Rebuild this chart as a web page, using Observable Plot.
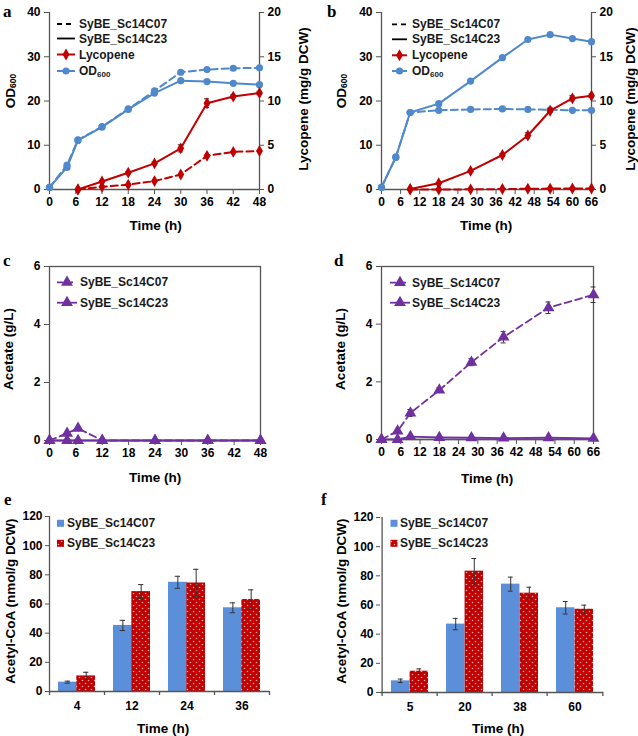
<!DOCTYPE html>
<html><head><meta charset="utf-8">
<script src="https://cdn.jsdelivr.net/npm/d3@7"></script>
<script src="https://cdn.jsdelivr.net/npm/@observablehq/plot@0.6"></script>
<style>
body{margin:0;background:#fff;}
#fig{position:relative;width:638px;height:736px;overflow:hidden;background:#fff;}
</style></head><body><div id="fig"></div>
<script>
// ---------- Panel a ----------
const timeA_OD = [0, 4, 6.5, 12, 18, 24, 30, 36, 42, 48];
const odA_C07 = [0.5, 5.5, 11.2, 14.2, 18.2, 22.3, 26.5, 27.1, 27.4, 27.5];
const odA_C23 = [0.5, 5.0, 11.1, 14.1, 18.1, 21.8, 24.6, 24.4, 24.0, 23.7];
const timeA_Lyc = [6.5, 12, 18, 24, 30, 36, 42, 48];
const lycA_C07 = [0, 0.3, 0.55, 0.95, 1.7, 3.8, 4.25, 4.35];
const lycA_C23 = [0, 0.9, 1.9, 2.95, 4.65, 9.75, 10.5, 10.9];
const lycA_C23_err = [0, 0.1, 0.1, 0.15, 0.4, 0.5, 0.2, 0.2];
// ---------- Panel b ----------
const timeB_OD = [0, 4.5, 9, 18, 28, 38, 46, 53, 60, 66];
const odB_C07 = [0.5, 7.3, 17.4, 17.9, 18.1, 18.2, 18.1, 18.0, 17.9, 17.9];
const odB_C23 = [0.5, 7.3, 17.4, 19.4, 24.5, 29.8, 33.9, 35.0, 34.1, 33.4];
const timeB_Lyc = [9, 18, 28, 38, 46, 53, 60, 66];
const lycB_C07 = [0, 0, 0.02, 0.05, 0.08, 0.1, 0.12, 0.12];
const lycB_C23 = [0.05, 0.7, 2.1, 3.9, 6.1, 8.9, 10.3, 10.6];
const lycB_C23_err = [0, 0.1, 0.1, 0.15, 0.3, 0.2, 0.3, 0.2];
// ---------- Panel c ----------
const timeC = [0, 4, 6.5, 12, 24, 36, 48];
const aceC_C07 = [0, 0.25, 0.42, 0, 0, 0, 0];
const aceC_C23 = [0, 0, 0, 0, 0, 0, 0];
// ---------- Panel d ----------
const timeD = [0, 5, 9, 18, 28, 38, 52, 66];
const aceD_C07 = [0, 0.29, 0.92, 1.71, 2.68, 3.55, 4.57, 5.02];
const aceD_C07_err = [0, 0.03, 0.12, 0.08, 0.12, 0.2, 0.2, 0.27];
const aceD_C23 = [0, 0, 0.1, 0.07, 0.06, 0.05, 0.06, 0.04];
// ---------- Panel e ----------
const catE = ["4", "12", "24", "36"];
const acoE_C07 = [6.4, 45.3, 74.9, 57.4];
const acoE_C07_err = [0.7, 3.5, 4.1, 3.4];
const acoE_C23 = [10.7, 68.5, 74.4, 63.1];
const acoE_C23_err = [2.5, 4.8, 9.4, 6.6];
// ---------- Panel f ----------
const catF = ["5", "20", "38", "60"];
const acoF_C07 = [8.0, 46.9, 74.3, 58.1];
const acoF_C07_err = [1.2, 3.9, 4.8, 4.3];
const acoF_C23 = [14.6, 83.2, 68.1, 57.1];
const acoF_C23_err = [1.6, 8.7, 4.1, 2.8];
// tick labels
const odTicks = [0, 10, 20, 30, 40];
const aceTicks = [0, 2, 4, 6];
const coaTicks = [0, 20, 40, 60, 80, 100, 120];
const strains = ["SyBE_Sc14C07", "SyBE_Sc14C23"];

const blue = "#5088cc", red = "#c00000", purple = "#7030a0", barBlue = "#5b8fd9";
const axisColor = "#555", errColor = "#333";
const font = "'Liberation Sans', Arial, sans-serif";
const style = {fontFamily: font, fontSize: "12px", fontWeight: "bold", color: "#000", background: "transparent", overflow: "visible"};
const fig = document.getElementById("fig");
function place(svg, left, top) {
  svg.style.position = "absolute"; svg.style.left = left + "px"; svg.style.top = top + "px";
  fig.appendChild(svg);
}
const pts = (xs, ys, es) => xs.map((x, i) => ({x, y: ys[i], e: es ? es[i] : 0}));
const k = 40 / 20; // right (lycopene 0–20) axis onto left (OD 0–40) scale
const fmt = d => String(d);

function errBars(data, f = 1) {
  const d = data.filter(p => p.e > 0);
  const o = {stroke: errColor, strokeWidth: 1};
  return [
    Plot.ruleX(d, {x: "x", y1: p => (p.y - p.e) * f, y2: p => (p.y + p.e) * f, ...o}),
    Plot.ruleY(d, {x1: "x", x2: "x", y: p => (p.y + p.e) * f, insetLeft: -2.5, insetRight: -2.5, ...o}),
    Plot.ruleY(d, {x1: "x", x2: "x", y: p => (p.y - p.e) * f, insetLeft: -2.5, insetRight: -2.5, ...o})
  ];
}

function linePanel(o) {
  const ax = {stroke: axisColor, strokeWidth: 1.3};
  return Plot.plot({
    width: o.w, height: o.h, marginLeft: o.ml, marginRight: o.mr, marginTop: o.mt, marginBottom: o.mb,
    style,
    x: {domain: [0, o.xmax], label: null},
    y: {domain: [0, o.ymax], label: null},
    marks: [
      ...(o.box ? [Plot.frame(ax)] : [Plot.ruleX([0], ax), Plot.ruleX([o.xmax], ax)]),
      Plot.ruleY([0], ax),
      Plot.axisX({ticks: d3.range(0, o.xmax + 1, 6), tickFormat: fmt, tickSize: 5, tickPadding: 3, stroke: axisColor, label: null}),
      Plot.axisY({ticks: o.yticks, tickFormat: fmt, tickSize: 5, tickPadding: 4, stroke: axisColor, label: null}),
      ...(o.right ? [Plot.axisY({anchor: "right", ticks: o.yticks, tickFormat: o.right, tickSize: 4, tickPadding: 4, stroke: axisColor, label: null})] : []),
      ...o.marks
    ]
  });
}

function odLycMarks(od07, od23, ly07, ly23) {
  return [
    Plot.line(od07, {x: "x", y: "y", stroke: blue, strokeWidth: 2, strokeDasharray: "7,4"}),
    Plot.line(od23, {x: "x", y: "y", stroke: blue, strokeWidth: 2}),
    Plot.dot(od07, {x: "x", y: "y", r: 3.6, fill: blue}),
    Plot.dot(od23, {x: "x", y: "y", r: 3.6, fill: blue}),
    ...errBars(ly23, k),
    Plot.line(ly07, {x: "x", y: d => d.y * k, stroke: red, strokeWidth: 2, strokeDasharray: "7,4"}),
    Plot.line(ly23, {x: "x", y: d => d.y * k, stroke: red, strokeWidth: 2}),
    Plot.dot(ly07, {x: "x", y: d => d.y * k, symbol: "diamond", r: 3.6, fill: red}),
    Plot.dot(ly23, {x: "x", y: d => d.y * k, symbol: "diamond", r: 3.6, fill: red})
  ];
}
function aceMarks(a07, a23) {
  return [
    ...errBars(a07),
    Plot.line(a07, {x: "x", y: "y", stroke: purple, strokeWidth: 1.8, strokeDasharray: "7,4"}),
    Plot.line(a23, {x: "x", y: "y", stroke: purple, strokeWidth: 1.8}),
    Plot.dot(a07, {x: "x", y: "y", symbol: "triangle", r: 4.4, fill: purple}),
    Plot.dot(a23, {x: "x", y: "y", symbol: "triangle", r: 4.4, fill: purple})
  ];
}

// Panel a
place(linePanel({w: 319, h: 236, ml: 49, mr: 60, mt: 12, mb: 47, xmax: 48, ymax: 40, yticks: odTicks, right: d => fmt(d / k),
  marks: odLycMarks(pts(timeA_OD, odA_C07), pts(timeA_OD, odA_C23), pts(timeA_Lyc, lycA_C07), pts(timeA_Lyc, lycA_C23, lycA_C23_err))}), 0, 0);
// Panel b
place(linePanel({w: 320, h: 236, ml: 63, mr: 47, mt: 12, mb: 47, xmax: 66, ymax: 40, yticks: odTicks, right: d => fmt(d / k),
  marks: odLycMarks(pts(timeB_OD, odB_C07), pts(timeB_OD, odB_C23), pts(timeB_Lyc, lycB_C07), pts(timeB_Lyc, lycB_C23, lycB_C23_err))}), 318, 0);
// Panel c
place(linePanel({w: 319, h: 236, ml: 49, mr: 59, mt: 18, mb: 44, xmax: 48, ymax: 6, yticks: aceTicks, box: true,
  marks: aceMarks(pts(timeC, aceC_C07), pts(timeC, aceC_C23))}), 0, 248);
// Panel d
place(linePanel({w: 320, h: 236, ml: 63, mr: 45, mt: 18, mb: 45, xmax: 66, ymax: 6, yticks: aceTicks, box: true,
  marks: aceMarks(pts(timeD, aceD_C07, aceD_C07_err), pts(timeD, aceD_C23))}), 318, 248);

function barPanel(o) {
  const step = (o.w - o.ml - o.mr) / o.cats.length;
  const pi = 0.334, bw = step * (1 - pi), half = bw / 2, cap = 2.5;
  const rows = o.cats.map((t, i) => ({t, a: o.a[i], ea: o.ea[i], b: o.b[i], eb: o.eb[i]}));
  const eo = {stroke: errColor, strokeWidth: 1};
  const ax = {stroke: axisColor, strokeWidth: 1.3};
  return Plot.plot({
    width: o.w, height: o.h, marginLeft: o.ml, marginRight: o.mr, marginTop: o.mt, marginBottom: o.mb,
    style,
    x: {type: "band", domain: o.cats, paddingInner: pi, paddingOuter: pi / 2, label: null},
    y: {domain: [0, 120], label: null},
    marks: [
      Plot.barY(rows, {x: "t", y: "a", fill: barBlue, insetRight: half}),
      Plot.barY(rows, {x: "t", y: "b", fill: "url(#redDots)", insetLeft: half}),
      Plot.ruleX(rows, {x: "t", y1: d => d.a - d.ea, y2: d => d.a + d.ea, dx: -half / 2, ...eo}),
      Plot.tickY(rows, {x: "t", y: d => d.a + d.ea, insetLeft: half / 2 - cap, insetRight: bw - half / 2 - cap, ...eo}),
      Plot.tickY(rows, {x: "t", y: d => d.a - d.ea, insetLeft: half / 2 - cap, insetRight: bw - half / 2 - cap, ...eo}),
      Plot.ruleX(rows, {x: "t", y1: d => d.b - d.eb, y2: d => d.b + d.eb, dx: half / 2, ...eo}),
      Plot.tickY(rows, {x: "t", y: d => d.b + d.eb, insetLeft: half + half / 2 - cap, insetRight: half / 2 - cap, ...eo}),
      Plot.tickY(rows, {x: "t", y: d => d.b - d.eb, insetLeft: half + half / 2 - cap, insetRight: half / 2 - cap, ...eo}),
      Plot.ruleY([0], ax),
      Plot.ruleX([o.cats[0]], {dx: -step / 2, ...ax}),
      Plot.ruleX(o.cats, {y1: 0, y2: 0, dx: -step / 2, insetBottom: -4, ...ax}),
      Plot.ruleX([o.cats[o.cats.length - 1]], {y1: 0, y2: 0, dx: step / 2, insetBottom: -4, ...ax}),
      Plot.axisX({tickSize: 0, tickPadding: 10, label: null}),
      Plot.axisY({ticks: coaTicks, tickFormat: fmt, tickSize: 4, tickPadding: 3, stroke: axisColor, label: null})
    ]
  });
}
place(barPanel({w: 319, h: 240, ml: 49, mr: 50, mt: 20, mb: 45, cats: catE, a: acoE_C07, ea: acoE_C07_err, b: acoE_C23, eb: acoE_C23_err}), 0, 496);
place(barPanel({w: 320, h: 240, ml: 62, mr: 35, mt: 21, mb: 44, cats: catF, a: acoF_C07, ea: acoF_C07_err, b: acoF_C23, eb: acoF_C23_err}), 318, 496);

// ---------- overlay: titles, legends, panel letters ----------
const ov = d3.create("svg").attr("width", 638).attr("height", 736)
  .style("position", "absolute").style("left", "0px").style("top", "0px").style("overflow", "visible")
  .attr("font-family", font).attr("font-weight", "bold");
const pat = ov.append("defs").append("pattern").attr("id", "redDots")
  .attr("patternUnits", "userSpaceOnUse").attr("width", 6).attr("height", 6);
pat.append("rect").attr("width", 6).attr("height", 6).attr("fill", red);
pat.append("circle").attr("cx", 1.5).attr("cy", 1.5).attr("r", 0.8).attr("fill", "#f4a8a8");
pat.append("circle").attr("cx", 4.5).attr("cy", 4.5).attr("r", 0.8).attr("fill", "#f4a8a8");

function title(x, y, txt, rotate, sub) {
  const t = ov.append("text").attr("transform", `translate(${x},${y})` + (rotate ? " rotate(-90)" : ""))
    .attr("text-anchor", "middle").attr("dominant-baseline", "central").attr("font-size", 13.5).attr("fill", "#000");
  t.append("tspan").text(txt);
  if (sub) t.append("tspan").attr("font-size", 8.5).attr("dy", 3).text(sub);
}
function letter(x, y, c) {
  ov.append("text").attr("x", x).attr("y", y).attr("font-family", "'Liberation Serif', 'Times New Roman', serif")
    .attr("font-weight", "bold").attr("font-size", 17).attr("fill", "#000").text(c);
}
letter(3, 17, "a"); letter(327, 17, "b"); letter(3, 266, "c"); letter(334, 266, "d"); letter(4, 505, "e"); letter(321, 505, "f");

title(10, 91, "OD", true, "600"); title(303, 99, "Lycopene (mg/g DCW)", true);
title(340.5, 91, "OD", true, "600"); title(630, 99, "Lycopene (mg/g DCW)", true);
title(8, 349, "Acetate (g/L)", true); title(340, 349, "Acetate (g/L)", true);
title(10, 601, "Acetyl-CoA (nmol/g DCW)", true); title(341, 601, "Acetyl-CoA (nmol/g DCW)", true);
title(155.5, 225, "Time (h)"); title(486, 225, "Time (h)");
title(155, 477, "Time (h)"); title(487, 478, "Time (h)");
title(163, 728, "Time (h)"); title(498, 728, "Time (h)");

function legText(x, y, txt, sub) {
  const t = ov.append("text").attr("x", x).attr("y", y).attr("dominant-baseline", "central")
    .attr("font-size", 12).attr("fill", "#1a1a1a");
  t.append("tspan").text(txt);
  if (sub) t.append("tspan").attr("font-size", 8).attr("dy", 3).text(sub);
}
function legLine(x1, x2, y, color, dash, w = 2) {
  ov.append("line").attr("x1", x1).attr("x2", x2).attr("y1", y).attr("y2", y)
    .attr("stroke", color).attr("stroke-width", w).attr("stroke-dasharray", dash || null);
}
const diamond = d3.symbol(d3.symbolDiamond, 3.6 * 3.6 * Math.PI)();
const tri = d3.symbol(d3.symbolTriangle, 4.4 * 4.4 * Math.PI)();
function odLegend(x1, x2, tx, ys) {
  const cx = (x1 + x2) / 2;
  legLine(x1, x2, ys[0], "#000", "5,4", 1.8); legText(tx, ys[0], strains[0]);
  legLine(x1, x2, ys[1], "#000", null, 1.8); legText(tx, ys[1], strains[1]);
  legLine(x1, x2, ys[2], red); ov.append("path").attr("d", diamond).attr("fill", red).attr("transform", `translate(${cx},${ys[2]})`);
  legText(tx, ys[2], "Lycopene");
  legLine(x1, x2, ys[3], blue); ov.append("circle").attr("cx", cx).attr("cy", ys[3]).attr("r", 3.6).attr("fill", blue);
  legText(tx, ys[3], "OD", "600");
}
odLegend(57, 75, 79, [24, 38.5, 54.5, 71]);
odLegend(392, 407, 412, [24.3, 39.3, 55.3, 71]);
function aceLegend(x1, x2, tx, ys) {
  const cx = (x1 + x2) / 2;
  legLine(x1, x2, ys[0], purple, "6,4", 1.8);
  ov.append("path").attr("d", tri).attr("fill", purple).attr("transform", `translate(${cx},${ys[0]})`);
  legText(tx, ys[0], strains[0]);
  legLine(x1, x2, ys[1], purple, null, 1.8);
  ov.append("path").attr("d", tri).attr("fill", purple).attr("transform", `translate(${cx},${ys[1]})`);
  legText(tx, ys[1], strains[1]);
}
aceLegend(57, 77, 80, [282.3, 302.7]);
aceLegend(390, 410, 412, [282.7, 302.7]);
function barLegend(x, tx, ys) {
  ov.append("rect").attr("x", x).attr("y", ys[0] - 3.5).attr("width", 7).attr("height", 7).attr("fill", barBlue);
  legText(tx, ys[0], strains[0]);
  ov.append("rect").attr("x", x).attr("y", ys[1] - 3.5).attr("width", 7).attr("height", 7).attr("fill", "url(#redDots)");
  legText(tx, ys[1], strains[1]);
}
barLegend(57, 67, [523.3, 543.3]);
barLegend(390.5, 400, [523.3, 543.3]);
fig.appendChild(ov.node());
</script></body></html>
